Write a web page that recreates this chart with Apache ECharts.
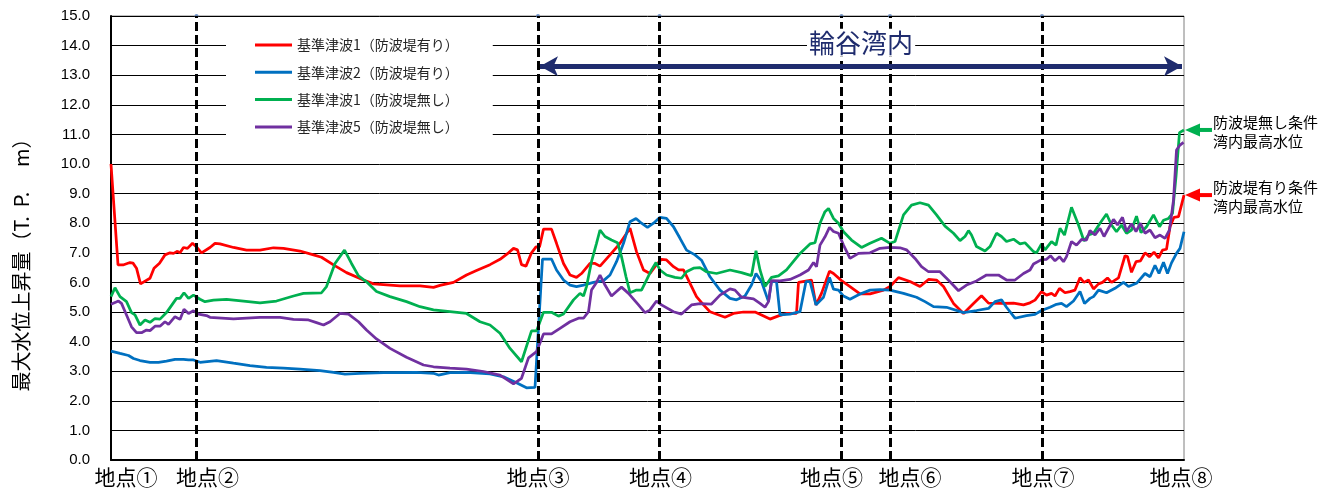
<!DOCTYPE html>
<html>
<head>
<meta charset="utf-8">
<title>最大水位上昇量</title>
<script src="https://cdn.jsdelivr.net/npm/echarts@6/dist/echarts.min.js"></script>
<style>
  html, body { margin: 0; padding: 0; background: #fff; }
  #chart { width: 1326px; height: 494px; }
</style>
</head>
<body>
<div id="chart"></div>
<script>
// ---- data -------------------------------------------------------------
// distance index along the coastline (地点① = 0)
const SITE_NAMES = ['地点①', '地点②', '地点③', '地点④', '地点⑤', '地点⑥', '地点⑦', '地点⑧'];
const SITE_POS = [0, 17.1, 85.4, 109.7, 146.1, 155.8, 186.2, 214.6];
const X_MAX = 214.6;
const Y_TICKS = [0, 15, 1]; // min, max, step  (T.P. m)

const SERIES_NAMES = [
  '基準津波1（防波堤有り）',
  '基準津波2（防波堤有り）',
  '基準津波1（防波堤無し）',
  '基準津波5（防波堤無し）'
];

const BAY_LABEL = '輪谷湾内';
const BAY_RANGE = [85.8, 214.2];
const BAY_ARROW_LEVEL = 13.3;
const BAY_LABEL_LEVEL = 14.1;

const NOTE_NO_BREAKWATER = '防波堤無し条件\n湾内最高水位';
const NOTE_BREAKWATER = '防波堤有り条件\n湾内最高水位';

// 基準津波1（防波堤有り）
const WAVE1_WITH = [
  [0, 10.0], [1.4, 6.59], [2.4, 6.59], [3.8, 6.67], [4.4, 6.65], [5.1, 6.48], [5.9, 5.95], [7.8, 6.14],
  [8.6, 6.48], [9.7, 6.65], [10.8, 6.93], [11.8, 7.0], [12.5, 6.98], [13.3, 7.05], [13.8, 7.0], [14.5, 7.18],
  [15.3, 7.15], [16.3, 7.32], [17.1, 7.2], [18.1, 7.0], [19.8, 7.18], [20.8, 7.32], [21.8, 7.3], [24.5, 7.18],
  [27.1, 7.09], [29.8, 7.09], [32.5, 7.17], [34.5, 7.15], [37.8, 7.06], [40.5, 6.93], [42.1, 6.85], [44.5, 6.59],
  [47.1, 6.33], [50.5, 6.08], [52.5, 5.95], [57.8, 5.88], [61.8, 5.88], [64.5, 5.83], [65.8, 5.9], [68.5, 6.0],
  [71.1, 6.25], [73.1, 6.4], [75.8, 6.6], [77.8, 6.78], [79.5, 7.0], [80.5, 7.15], [81.3, 7.1], [82.1, 6.6],
  [83.0, 6.55], [84.1, 7.0], [85.0, 7.2], [85.7, 7.2], [86.5, 7.8], [88.1, 7.8], [89.1, 7.32], [90.5, 6.64],
  [91.8, 6.25], [93.1, 6.17], [94.1, 6.3], [95.8, 6.64], [96.8, 6.64], [97.8, 6.55], [99.8, 6.93], [101.8, 7.32],
  [103.8, 7.83], [105.1, 7.04], [106.5, 6.42], [107.8, 6.3], [109.1, 6.6], [110.1, 6.78], [111.1, 6.76], [112.5, 6.53],
  [113.5, 6.42], [114.5, 6.42], [115.8, 5.97], [117.1, 5.52], [118.5, 5.24], [119.8, 5.01], [122.8, 4.82], [124.5, 4.95],
  [126.5, 5.0], [128.8, 5.0], [130.1, 4.9], [131.8, 4.76], [133.5, 4.87], [135.1, 4.95], [137.1, 4.95], [137.5, 6.0],
  [140.1, 6.08], [141.0, 5.24], [142.1, 5.63], [143.7, 6.38], [144.5, 6.3], [146.1, 6.06], [147.8, 5.86], [149.8, 5.61],
  [151.8, 5.61], [154.5, 5.74], [155.8, 5.86], [157.5, 6.16], [159.8, 6.03], [161.8, 5.86], [163.5, 6.1], [165.1, 6.08],
  [166.5, 5.86], [168.5, 5.29], [170.5, 4.95], [172.5, 5.29], [174.1, 5.55], [175.5, 5.3], [178.1, 5.29], [180.5, 5.3],
  [182.5, 5.24], [183.8, 5.31], [184.8, 5.4], [186.1, 5.69], [187.1, 5.57], [188.1, 5.63], [188.8, 5.54], [189.7, 5.8],
  [190.8, 5.65], [191.8, 5.69], [192.8, 5.74], [193.8, 6.16], [194.6, 6.0], [195.5, 6.08], [196.5, 5.78], [197.5, 5.95],
  [198.3, 6.0], [199.3, 6.15], [200.1, 6.0], [201.5, 6.15], [202.8, 6.9], [203.3, 6.87], [204.1, 6.34], [205.0, 6.7],
  [205.9, 6.73], [206.8, 7.0], [207.7, 6.87], [208.6, 7.02], [209.5, 6.83], [210.3, 7.09], [211.1, 7.12], [211.8, 7.88],
  [212.6, 8.2], [213.5, 8.22], [214.6, 8.95]
];

// 基準津波2（防波堤有り）
const WAVE2_WITH = [
  [0, 3.68], [1.8, 3.6], [3.5, 3.53], [4.5, 3.43], [5.8, 3.36], [7.8, 3.3], [9.5, 3.3], [11.1, 3.34],
  [12.8, 3.4], [14.5, 3.4], [15.5, 3.38], [16.5, 3.38], [17.8, 3.3], [21.1, 3.36], [24.5, 3.27], [27.8, 3.19],
  [31.1, 3.13], [34.5, 3.1], [37.8, 3.07], [41.8, 3.02], [44.5, 2.96], [46.8, 2.9], [49.8, 2.93], [54.5, 2.95],
  [61.1, 2.96], [64.5, 2.93], [65.5, 2.87], [67.8, 2.95], [71.1, 2.96], [75.8, 2.91], [78.5, 2.81], [81.1, 2.61],
  [83.1, 2.44], [84.8, 2.45], [86.3, 6.79], [88.1, 6.79], [89.1, 6.42], [90.5, 6.08], [91.8, 5.91], [93.1, 5.86],
  [94.5, 5.91], [96.5, 6.0], [98.5, 6.06], [99.8, 6.25], [101.1, 6.7], [102.5, 7.32], [103.8, 8.05], [105.0, 8.16],
  [106.1, 8.0], [107.3, 7.86], [108.5, 8.0], [109.8, 8.2], [111.1, 8.16], [112.5, 7.88], [113.8, 7.49], [115.1, 7.09],
  [116.8, 6.93], [118.1, 6.75], [119.8, 6.19], [121.8, 5.74], [123.8, 5.46], [125.1, 5.41], [126.8, 5.54], [128.1, 5.91],
  [129.0, 6.3], [130.1, 6.03], [131.5, 5.35], [132.1, 6.03], [133.1, 6.03], [133.8, 4.9], [135.8, 4.93], [137.8, 5.01],
  [139.0, 6.03], [139.8, 6.03], [141.0, 5.24], [142.5, 5.5], [143.7, 6.17], [144.5, 5.77], [145.5, 5.74], [146.5, 5.54],
  [147.8, 5.43], [149.8, 5.61], [151.8, 5.74], [153.8, 5.76], [155.8, 5.74], [158.5, 5.63], [161.1, 5.5], [162.8, 5.35],
  [164.5, 5.18], [167.1, 5.16], [170.5, 4.98], [173.1, 5.05], [175.5, 5.12], [176.8, 5.35], [178.1, 5.41], [179.1, 5.16],
  [180.8, 4.79], [183.1, 4.88], [184.8, 4.92], [186.1, 5.05], [187.8, 5.16], [189.1, 5.26], [190.1, 5.29], [191.1, 5.18],
  [192.5, 5.37], [193.8, 5.69], [194.7, 5.29], [195.8, 5.46], [196.5, 5.52], [197.5, 5.74], [199.1, 5.65], [200.8, 5.8],
  [202.5, 6.0], [203.5, 5.86], [205.1, 5.97], [206.8, 6.3], [207.8, 6.19], [208.8, 6.58], [209.6, 6.3], [210.5, 6.68],
  [211.3, 6.3], [212.1, 6.66], [213.1, 6.98], [213.8, 7.15], [214.6, 7.71]
];

// 基準津波1（防波堤無し）
const WAVE1_WITHOUT = [
  [0, 5.52], [0.8, 5.82], [1.8, 5.52], [3.1, 5.35], [4.1, 4.98], [4.8, 4.9], [5.8, 4.56], [6.8, 4.73],
  [7.8, 4.65], [8.8, 4.78], [9.8, 4.76], [11.1, 4.98], [13.1, 5.46], [13.8, 5.46], [14.6, 5.65], [15.5, 5.46],
  [16.5, 5.57], [17.8, 5.43], [18.8, 5.35], [20.5, 5.4], [23.1, 5.43], [26.5, 5.37], [29.8, 5.31], [33.1, 5.37],
  [36.5, 5.54], [38.5, 5.63], [42.1, 5.65], [43.1, 5.86], [44.8, 6.64], [46.7, 7.09], [48.1, 6.64], [49.5, 6.22],
  [51.1, 6.02], [53.1, 5.69], [55.8, 5.52], [59.1, 5.35], [61.8, 5.18], [64.5, 5.07], [67.8, 5.01], [71.1, 4.95],
  [73.8, 4.67], [75.8, 4.56], [77.8, 4.28], [79.8, 3.77], [82.1, 3.32], [84.1, 4.36], [85.1, 4.36], [86.5, 4.99],
  [88.1, 4.99], [89.5, 4.86], [90.5, 4.93], [92.5, 5.41], [93.8, 5.63], [94.5, 5.54], [95.1, 5.86], [96.1, 6.7],
  [97.1, 7.32], [97.8, 7.77], [98.8, 7.55], [100.1, 7.43], [101.3, 7.34], [102.1, 6.87], [103.0, 6.19], [103.8, 5.65],
  [105.1, 5.74], [106.1, 5.74], [107.1, 6.08], [108.1, 6.42], [109.0, 6.67], [109.8, 6.42], [111.1, 6.25], [112.8, 6.17],
  [114.1, 6.14], [115.1, 6.36], [116.5, 6.48], [117.8, 6.5], [119.1, 6.36], [121.1, 6.3], [123.8, 6.42], [126.1, 6.33],
  [128.1, 6.23], [129.0, 7.07], [129.8, 6.42], [130.8, 5.86], [132.1, 6.17], [133.5, 6.22], [135.1, 6.42], [137.8, 6.98],
  [139.8, 7.3], [140.8, 7.34], [141.8, 8.0], [142.8, 8.39], [143.5, 8.5], [144.5, 8.16], [145.5, 8.0], [146.5, 7.71],
  [148.1, 7.43], [150.1, 7.18], [151.8, 7.32], [154.1, 7.49], [155.8, 7.32], [156.8, 7.38], [158.5, 8.28], [160.1, 8.61],
  [161.8, 8.69], [163.5, 8.61], [165.1, 8.28], [166.8, 7.9], [168.5, 7.66], [169.8, 7.41], [170.8, 7.55], [171.5, 7.75],
  [172.1, 7.6], [173.1, 7.21], [174.8, 7.06], [175.8, 7.21], [177.1, 7.66], [178.1, 7.55], [179.1, 7.38], [180.5, 7.46],
  [181.8, 7.3], [182.8, 7.34], [184.5, 7.04], [185.1, 7.0], [186.1, 7.3], [186.8, 7.1], [188.1, 7.38], [189.0, 7.26],
  [189.8, 7.83], [190.7, 7.6], [192.1, 8.54], [193.5, 7.94], [194.6, 7.4], [195.5, 7.6], [196.5, 7.66], [197.8, 8.0],
  [199.1, 8.31], [200.1, 7.94], [201.1, 7.71], [202.1, 7.94], [203.1, 7.66], [204.1, 7.77], [205.1, 8.24], [206.0, 7.68],
  [207.1, 7.88], [208.5, 8.28], [209.7, 7.88], [210.5, 8.1], [211.5, 8.16], [212.3, 8.33], [213.0, 9.57], [213.7, 11.06],
  [214.6, 11.15]
];

// 基準津波5（防波堤無し）
const WAVE5_WITHOUT = [
  [0, 5.26], [1.5, 5.37], [2.1, 5.29], [3.1, 4.9], [4.1, 4.5], [5.1, 4.3], [6.1, 4.3], [7.1, 4.39],
  [7.8, 4.37], [8.8, 4.52], [9.8, 4.52], [10.8, 4.67], [11.5, 4.58], [12.8, 4.84], [13.8, 4.75], [14.6, 5.09],
  [15.5, 4.95], [16.5, 5.04], [17.5, 4.93], [19.1, 4.88], [19.8, 4.82], [24.5, 4.77], [29.8, 4.82], [33.8, 4.82],
  [36.5, 4.75], [39.5, 4.73], [41.1, 4.64], [42.5, 4.56], [43.8, 4.67], [45.8, 4.95], [47.5, 4.93], [49.5, 4.67],
  [51.1, 4.39], [53.1, 4.09], [55.8, 3.77], [59.1, 3.47], [62.5, 3.21], [64.5, 3.15], [67.8, 3.1], [71.1, 3.07],
  [74.5, 2.99], [77.8, 2.87], [80.5, 2.57], [82.1, 2.76], [83.5, 3.45], [85.1, 3.66], [86.5, 4.26], [88.1, 4.26],
  [89.8, 4.45], [91.8, 4.67], [93.5, 4.79], [94.5, 4.79], [95.5, 5.01], [96.1, 5.74], [97.1, 6.0], [97.8, 6.25],
  [98.8, 5.91], [100.1, 5.54], [101.1, 5.69], [102.1, 5.84], [103.5, 5.63], [105.5, 5.24], [106.8, 4.98], [107.8, 5.07],
  [109.1, 5.37], [110.1, 5.24], [112.5, 5.01], [114.1, 4.93], [116.1, 5.24], [117.8, 5.28], [120.1, 5.27], [121.8, 5.57],
  [123.8, 5.78], [124.8, 5.74], [126.1, 5.5], [128.5, 5.44], [129.8, 5.29], [130.8, 5.16], [131.5, 5.35], [132.1, 6.06],
  [133.8, 6.05], [135.8, 6.1], [137.8, 6.25], [139.5, 6.42], [140.5, 6.67], [141.1, 6.53], [141.8, 7.26], [142.8, 7.54],
  [143.7, 7.86], [144.5, 7.72], [145.5, 7.66], [146.5, 7.26], [147.8, 6.81], [149.5, 6.98], [151.8, 7.0], [153.8, 7.15],
  [155.8, 7.18], [157.8, 7.17], [159.1, 7.1], [160.8, 6.81], [162.1, 6.53], [163.5, 6.36], [165.8, 6.36], [167.8, 6.02],
  [169.5, 5.72], [171.1, 5.91], [173.1, 6.05], [175.1, 6.25], [177.5, 6.25], [179.1, 6.08], [180.8, 6.08], [182.5, 6.3],
  [183.8, 6.42], [184.5, 6.62], [186.1, 6.77], [187.1, 6.78], [187.9, 6.9], [188.8, 6.73], [189.7, 6.87], [190.5, 6.7],
  [191.1, 6.87], [192.1, 7.38], [193.1, 7.26], [194.1, 7.45], [195.1, 7.43], [195.8, 7.75], [196.8, 7.6], [197.8, 7.83],
  [198.6, 7.55], [199.5, 7.83], [200.5, 8.13], [201.3, 7.94], [202.3, 8.2], [203.1, 7.72], [204.1, 7.98], [205.0, 7.72],
  [205.9, 8.0], [206.8, 7.66], [207.8, 7.77], [208.8, 7.51], [209.8, 7.6], [210.8, 7.49], [211.7, 7.77], [212.5, 8.78],
  [213.1, 10.47], [213.8, 10.64], [214.5, 10.73]
];

// ---- styling ----------------------------------------------------------
const FONT_JP = '"Noto Sans CJK JP", "Noto Sans", sans-serif';
const FONT_NUM = '"Liberation Sans", Arial, sans-serif';
const COLORS = ['#FF0000', '#0070C0', '#00B050', '#7030A0'];
const NAVY = '#1F2C6E';
// horizontal nudge (px) of each site label away from its divider
const LABEL_SHIFT = [15, 11, 0, 1, -10, 20, 1, -3];

const richSite = {};
LABEL_SHIFT.forEach((s, i) => {
  richSite['s' + i] = {
    fontSize: 21, color: '#000', fontFamily: FONT_JP,
    padding: s >= 0 ? [0, 0, 0, 2 * s] : [0, -2 * s, 0, 0]
  };
});

const seriesData = [WAVE1_WITH, WAVE2_WITH, WAVE1_WITHOUT, WAVE5_WITHOUT];

const chart = echarts.init(document.getElementById('chart'), null, { renderer: 'canvas' });

const lineSeries = SERIES_NAMES.map((name, i) => ({
  name,
  type: 'line',
  data: seriesData[i],
  showSymbol: false,
  symbol: 'none',
  color: COLORS[i],
  lineStyle: { width: 2.75, color: COLORS[i] },
  z: 2 + i * 0.01,
  animation: false
}));

// site dividers (dashed) with a small marker at the top of each
const dividerSeries = {
  name: 'dividers',
  type: 'scatter',
  data: SITE_POS.slice(1, 7).map(v => [v, Y_TICKS[1]]),
  symbolSize: 4,
  itemStyle: { color: '#5479B3' },
  silent: true,
  z: 3,
  animation: false,
  markLine: {
    silent: true,
    symbol: 'none',
    label: { show: false },
    lineStyle: { color: '#000', width: 3, type: [9, 4] },
    data: SITE_POS.slice(1, 7).map(v => ({ xAxis: v })),
    animation: false
  }
};

// bay extent arrow and its caption
const baySeries = {
  name: 'bay',
  type: 'scatter',
  data: [],
  silent: true,
  z: 5,
  animation: false,
  markLine: {
    silent: true,
    symbol: ['arrow', 'arrow'],
    symbolSize: [15, 18],
    label: { show: false },
    lineStyle: { color: NAVY, width: 5, type: 'solid' },
    data: [[
      { coord: [BAY_RANGE[0], BAY_ARROW_LEVEL] },
      { coord: [BAY_RANGE[1], BAY_ARROW_LEVEL] }
    ]],
    animation: false
  },
  markPoint: {
    silent: true,
    symbol: 'rect',
    symbolSize: 0,
    data: [{ coord: [(BAY_RANGE[0] + BAY_RANGE[1]) / 2, BAY_LABEL_LEVEL] }],
    label: {
      show: true, position: 'inside', formatter: BAY_LABEL,
      fontSize: 26, color: NAVY, fontFamily: FONT_JP,
      backgroundColor: '#fff', padding: [1, 2, 1, 2]
    },
    animation: false
  }
};

const option = {
  animation: false,
  backgroundColor: '#fff',
  grid: {
    left: 111, right: 142, top: 16, bottom: 34,
    show: true, borderColor: '#7F7F7F', borderWidth: 1,
    backgroundColor: 'transparent'
  },
  legend: {
    data: SERIES_NAMES,
    orient: 'vertical',
    left: 226, top: 30,
    icon: 'rect', itemWidth: 37, itemHeight: 3, itemGap: 13.3,
    padding: [8, 34, 12, 29],
    backgroundColor: '#fff',
    selectedMode: false,
    textStyle: { fontSize: 14, color: '#262626', fontFamily: FONT_JP }
  },
  xAxis: {
    type: 'value',
    min: 0, max: X_MAX,
    axisLine: { show: true, onZero: false, lineStyle: { color: '#000', width: 2 } },
    axisTick: { show: false },
    splitLine: { show: false },
    axisLabel: {
      customValues: SITE_POS,
      margin: 7,
      formatter: (v) => {
        const i = SITE_POS.indexOf(v);
        return i < 0 ? '' : `{s${i}|${SITE_NAMES[i]}}`;
      },
      rich: richSite
    }
  },
  yAxis: {
    type: 'value',
    min: Y_TICKS[0], max: Y_TICKS[1], interval: Y_TICKS[2],
    name: '最大水位上昇量（T.  P.　 m）',
    nameLocation: 'middle',
    nameGap: 80,
    nameTextStyle: { fontSize: 20, color: '#000', fontFamily: FONT_JP, padding: [0, 44, 0, 0] },
    axisLine: { show: true, lineStyle: { color: '#000', width: 2 } },
    axisTick: { show: false },
    splitLine: { show: true, lineStyle: { color: '#000', width: 1 } },
    axisLabel: {
      margin: 21, fontSize: 15, color: '#000', fontFamily: FONT_NUM,
      formatter: (v) => v.toFixed(1)
    }
  },
  series: [...lineSeries, dividerSeries, baySeries]
};

chart.setOption(option);

// ---- peak-level call-outs to the right of the plot ----------------------
const bayPeak = (sets) => Math.max(...sets.flatMap(s => s.filter(p => p[0] >= BAY_RANGE[0]).map(p => p[1])));
const peakWithout = bayPeak([WAVE1_WITHOUT, WAVE5_WITHOUT]);
const peakWith = bayPeak([WAVE1_WITH, WAVE2_WITH]);

function callout(level, color, text) {
  const [x, y] = chart.convertToPixel({ xAxisIndex: 0, yAxisIndex: 0 }, [X_MAX, level]);
  return [
    { type: 'polygon', shape: { points: [[x + 1, y], [x + 16, y - 6.5], [x + 16, y + 6.5]] },
      style: { fill: color }, z: 10, silent: true },
    { type: 'line', shape: { x1: x + 14, y1: y, x2: x + 28, y2: y },
      style: { stroke: color, lineWidth: 4 }, z: 10, silent: true },
    { type: 'text', x: x + 29, y: y + 2, z: 10, silent: true,
      style: { text, fill: '#000', fontSize: 15, lineHeight: 19, fontFamily: FONT_JP,
               align: 'left', verticalAlign: 'middle' } }
  ];
}

chart.setOption({
  graphic: [
    ...callout(peakWithout, COLORS[2], NOTE_NO_BREAKWATER),
    ...callout(peakWith, COLORS[0], NOTE_BREAKWATER)
  ]
});
</script>
</body>
</html>
